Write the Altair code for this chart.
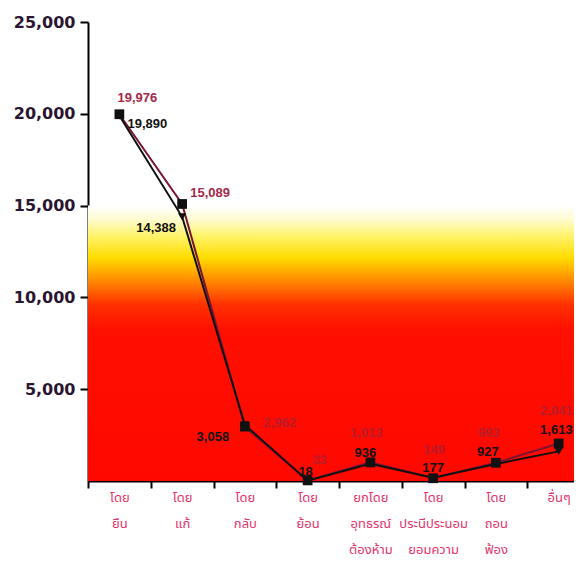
import altair as alt
import pandas as pd

categories = ["โดย ยืน", "โดย แก้", "โดย กลับ", "โดย ย้อน",
              "ยกโดย อุทธรณ์ ต้องห้าม", "โดย ประนีประนอม ยอมความ",
              "โดย ถอน ฟ้อง", "อื่นๆ"]
series_a = [19976, 15089, 2962, 33, 1013, 149, 993, 2041]
series_b = [19890, 14388, 3058, 18, 936, 177, 927, 1613]
y_ticks = [5000, 10000, 15000, 20000, 25000]
glow_band = [0, 15000]

df_a = pd.DataFrame({"cat": categories, "v": series_a})
df_b = pd.DataFrame({"cat": categories, "v": series_b})
df_bg = pd.DataFrame({"lo": [glow_band[0]], "hi": [glow_band[1]]})

# label styling (offsets in px, alignment, colours)
offs_a = [(18, -16, "center"), (28, -11, "center"), (35, -4, "center"), (12, -20, "center"),
          (-4, -29, "center"), (1, -28, "center"), (-7, -30, "center"), (14, -33, "right")]
offs_b = [(28, 8, "center"), (-26, 11, "center"), (-32, 12, "center"), (-2, -9, "center"),
          (-5, -11, "center"), (0, -10, "center"), (-8, -12, "center"), (14, -21, "right")]
col_a = ["#a3284a", "#a3284a", "#b81c2a", "#b81c2a", "#b81c2a", "#b81c2a", "#b81c2a", "#b81c2a"]

MAROON = "#7a1434"
x_scale = alt.Scale(type="band", domain=categories, range=[0, 502], paddingInner=0, paddingOuter=0)
y_scale = alt.Scale(domain=[0, 25000], nice=False, zero=True)

x_axis = alt.Axis(title=None, labelAngle=0, tickBand="extent", domainColor="black",
                  domainWidth=2, tickColor="black", tickWidth=2, tickSize=7,
                  labelColor="#e2336b", labelFontSize=13, labelLineHeight=26,
                  labelExpr="split(datum.label, ' ')", labelPadding=3,
                  labelFont="Noto Sans Thai, Noto Sans Thai Looped, Noto Sans, sans-serif",
                  labelOverlap=False, grid=False)
y_axis = alt.Axis(values=y_ticks, format=",d", title=None, grid=False, domainColor="black",
                  domainWidth=2, tickColor="black", tickWidth=2, tickSize=8,
                  labelFont="DejaVu Sans", labelFontWeight="bold", labelFontSize=16,
                  labelColor="#2a1630", labelPadding=5)

X = alt.X("cat:N", scale=x_scale, axis=x_axis, sort=categories)
Y = alt.Y("v:Q", scale=y_scale, axis=y_axis)

grad = alt.LinearGradient(
    gradient="linear", x1=0, x2=0, y1=1, y2=0,
    stops=[
        alt.GradientStop(color="#ff0800", offset=0.0),
        alt.GradientStop(color="#ff1000", offset=0.55),
        alt.GradientStop(color="#ff3000", offset=0.64),
        alt.GradientStop(color="#ff8c00", offset=0.73),
        alt.GradientStop(color="#ffdc00", offset=0.81),
        alt.GradientStop(color="#fff36a", offset=0.89),
        alt.GradientStop(color="#fffbd0", offset=0.95),
        alt.GradientStop(color="#ffffff", offset=1.0),
    ],
)

bg = alt.Chart(df_bg).mark_rect(fill=grad).encode(
    x=alt.value(0), x2=alt.value("width"),
    y=alt.Y("lo:Q", scale=y_scale, axis=y_axis), y2="hi:Q",
)

line_a = alt.Chart(df_a).mark_line(color=MAROON, strokeWidth=2).encode(x=X, y=Y)
line_b = alt.Chart(df_b).mark_line(color="#111111", strokeWidth=2).encode(x=X, y=Y)
pts_a = alt.Chart(df_a).mark_point(shape="square", filled=True, color="#111111", size=95, opacity=1).encode(x=X, y=Y)
pts_b = alt.Chart(df_b).mark_point(shape="triangle-down", filled=True, color="#111111", size=70, opacity=1).encode(x=X, y=Y)

layers = [bg, line_a, line_b, pts_a, pts_b]
for i, c in enumerate(categories):
    dx, dy, al = offs_a[i]
    layers.append(
        alt.Chart(df_a).transform_filter(alt.datum.cat == c).mark_text(
            dx=dx, dy=dy, align=al, baseline="middle", font="Liberation Sans",
            fontWeight="bold", fontSize=13, color=col_a[i]
        ).encode(x=X, y=Y, text=alt.Text("v:Q", format=","))
    )
    dx, dy, al = offs_b[i]
    layers.append(
        alt.Chart(df_b).transform_filter(alt.datum.cat == c).mark_text(
            dx=dx, dy=dy, align=al, baseline="middle", font="Liberation Sans",
            fontWeight="bold", fontSize=13, color="#111111"
        ).encode(x=X, y=Y, text=alt.Text("v:Q", format=","))
    )

chart = alt.layer(*layers).properties(
    width=486, height=459,
    autosize=alt.AutoSizeParams(type="none"),
    padding={"left": 80, "top": 14, "right": 0, "bottom": 80},
    background="white",
).configure_view(stroke=None)

chart.save("out.html", embed_options={"renderer": "svg", "actions": False})
